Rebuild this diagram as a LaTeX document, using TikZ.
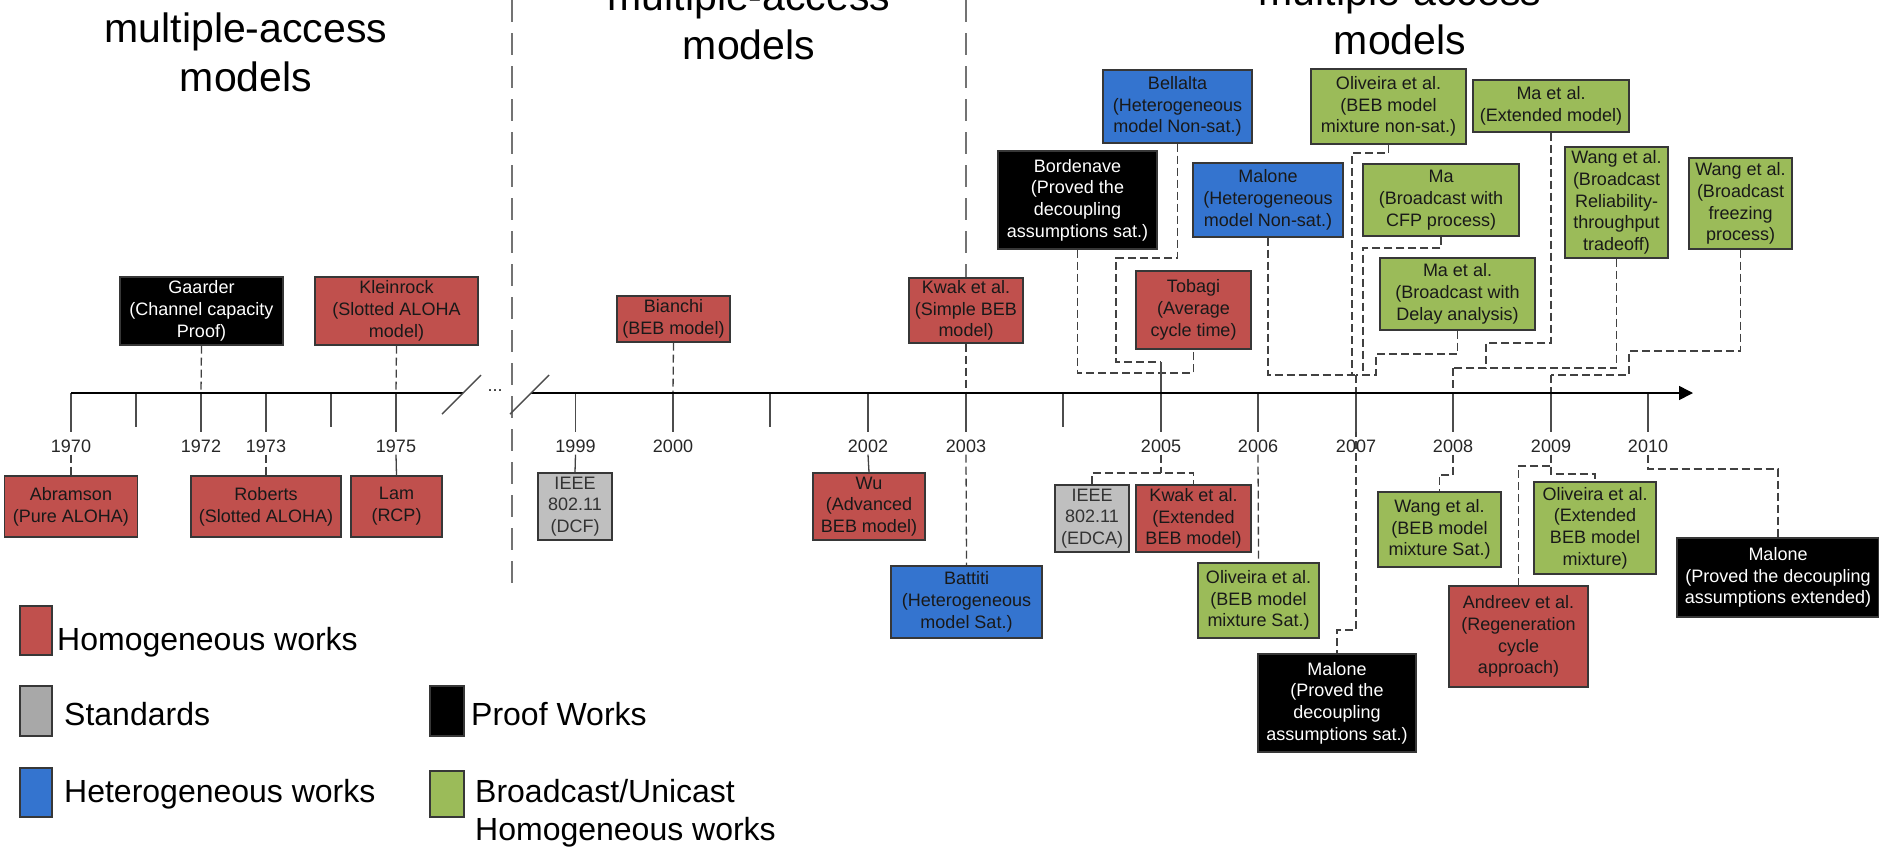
\documentclass[tikz,border=0pt]{standalone}
\usepackage{fontspec}
\setmainfont{Liberation Sans}
\usetikzlibrary{arrows.meta}
\definecolor{cred}{RGB}{192,80,77}
\definecolor{cgreen}{RGB}{155,187,89}
\definecolor{cblue}{RGB}{52,116,207}
\definecolor{cgray}{RGB}{191,191,191}
\definecolor{clgray}{RGB}{168,168,168}
\definecolor{cborder}{RGB}{55,55,55}
\definecolor{cconn}{RGB}{65,65,65}
\tikzset{
  box/.style={draw=cborder, line width=1.3pt, inner sep=0pt, align=center,
    font=\fontsize{18}{21.7}\selectfont, text=black!90},
  sz/.style 2 args={minimum width=#1pt, minimum height=#2pt},
  redbox/.style={box, fill=cred},
  greenbox/.style={box, fill=cgreen},
  bluebox/.style={box, fill=cblue},
  graybox/.style={box, fill=cgray, text=black!80},
  blackbox/.style={box, fill=black, text=white},
  conn/.style={draw=cconn, line width=1.3pt, dash pattern=on 8pt off 4pt},
  sconn/.style={draw=cconn, line width=1.3pt},
  sepline/.style={draw=black!55, line width=2.2pt, dash pattern=on 22pt off 11pt},
  tickline/.style={draw=black!70, line width=1.4pt},
  axisline/.style={draw=black, line width=1.5pt},
  yearlbl/.style={font=\fontsize{18}{21.7}\selectfont, text=black!85, inner sep=2pt},
  titletxt/.style={font=\fontsize{41}{49}\selectfont, inner sep=0pt, anchor=base},
  legtxt/.style={font=\fontsize{32}{38}\selectfont, inner sep=0pt, anchor=base west},
  swatch/.style={draw=cborder, line width=1.2pt, inner sep=0pt},
}
\begin{document}
\begin{tikzpicture}[x=1pt,y=-1pt]
\useasboundingbox (0,0) rectangle (1879,849);

% titles
\node[titletxt] (t1a) at (246,42) {multiple-access};
\node[titletxt] (t1b) at (246,91) {models};
\node[titletxt] (t2a) at (749,10) {multiple-access};
\node[titletxt] (t2b) at (749,59) {models};
\node[titletxt] (t3a) at (1400,5) {multiple-access};
\node[titletxt] (t3b) at (1400,54) {models};

% axis coordinates
\coordinate (y1970) at (71,393);
\coordinate (y1971) at (136,393);
\coordinate (y1972) at (201,393);
\coordinate (y1973) at (266,393);
\coordinate (y1974) at (331,393);
\coordinate (y1975) at (396,393);
\coordinate (y1999) at (575.5,393);
\coordinate (y2000) at (673,393);
\coordinate (y2001) at (770,393);
\coordinate (y2002) at (868,393);
\coordinate (y2003) at (966,393);
\coordinate (y2004) at (1063,393);
\coordinate (y2005) at (1161,393);
\coordinate (y2006) at (1258,393);
\coordinate (y2007) at (1356,393);
\coordinate (y2008) at (1453,393);
\coordinate (y2009) at (1551,393);
\coordinate (y2010) at (1648,393);
\coordinate (brk1) at (463,393);
\coordinate (brk2) at (531,393);
\coordinate (axend) at (1693,393);

% boxes
\node[blackbox, sz={163}{68}] (gaarder) at (201.5,311) {Gaarder\\(Channel capacity\\Proof)};
\node[redbox, sz={163}{68}] (kleinrock) at (396.5,311) {Kleinrock\\(Slotted ALOHA\\model)};
\node[redbox, sz={133}{61}] (abramson) at (71,506.5) {Abramson\\(Pure ALOHA)};
\node[redbox, sz={150}{61}] (roberts) at (266,506.5) {Roberts\\(Slotted ALOHA)};
\node[redbox, sz={91}{61}] (lam) at (396.5,506.5) {Lam\\(RCP)};
\node[graybox, sz={74}{67}] (dcf) at (575,506.5) {IEEE\\802.11\\(DCF)};
\node[redbox, sz={113}{46}] (bianchi) at (673.5,319) {Bianchi\\(BEB model)};
\node[redbox, sz={114}{65}] (kwak1) at (966,310.5) {Kwak et al.\\(Simple BEB\\model)};
\node[redbox, sz={112}{67}] (wu) at (869,506.5) {Wu\\(Advanced\\BEB model)};
\node[bluebox, sz={151}{72}] (battiti) at (966.5,602) {Battiti\\(Heterogeneous\\model Sat.)};
\node[graybox, sz={74}{67}] (edca) at (1092,518.5) {IEEE\\802.11\\(EDCA)};
\node[redbox, sz={115}{67}] (kwak2) at (1193.5,518.5) {Kwak et al.\\(Extended\\BEB model)};
\node[redbox, sz={115}{78}] (tobagi) at (1193.5,310) {Tobagi\\(Average\\cycle time)};
\node[blackbox, sz={159}{98}] (bordenave) at (1077.5,200) {Bordenave\\(Proved the\\decoupling\\assumptions sat.)};
\node[bluebox, sz={149}{73}] (bellalta) at (1177.5,106.5) {Bellalta\\(Heterogeneous\\model Non-sat.)};
\node[bluebox, sz={150}{74}] (maloneH) at (1268,200) {Malone\\(Heterogeneous\\model Non-sat.)};
\node[greenbox, sz={155}{75}] (oliveiraN) at (1388.5,106.5) {Oliveira et al.\\(BEB model\\mixture non-sat.)};
\node[greenbox, sz={156}{72}] (maCFP) at (1441,200) {Ma\\(Broadcast with\\CFP process)};
\node[greenbox, sz={155}{72}] (maDelay) at (1457.5,294) {Ma et al.\\(Broadcast with\\Delay analysis)};
\node[greenbox, sz={156}{52}] (maExt) at (1551,106) {Ma et al.\\(Extended model)};
\node[greenbox, sz={103}{111}] (wangR) at (1616.5,202.5) {Wang et al.\\(Broadcast\\Reliability-\\throughput\\tradeoff)};
\node[greenbox, sz={103}{91}] (wangF) at (1740.5,203.5) {Wang et al.\\(Broadcast\\freezing\\process)};
\node[greenbox, sz={121}{75}] (oliveiraS) at (1258.5,600.5) {Oliveira et al.\\(BEB model\\mixture Sat.)};
\node[blackbox, sz={158}{98}] (maloneS) at (1337,703) {Malone\\(Proved the\\decoupling\\assumptions sat.)};
\node[greenbox, sz={123}{75}] (wangB) at (1439.5,529.5) {Wang et al.\\(BEB model\\mixture Sat.)};
\node[greenbox, sz={122}{92}] (oliveiraE) at (1595,528) {Oliveira et al.\\(Extended\\BEB model\\mixture)};
\node[redbox, sz={139}{101}] (andreev) at (1518.5,636.5) {Andreev et al.\\(Regeneration\\cycle\\approach)};
\node[blackbox, sz={202}{79}] (maloneE) at (1778,577.5) {Malone\\(Proved the decoupling\\assumptions extended)};

% year labels
\node[yearlbl] (l1970) at (71,446) {1970};
\node[yearlbl] (l1972) at (201,446) {1972};
\node[yearlbl] (l1973) at (266,446) {1973};
\node[yearlbl] (l1975) at (396,446) {1975};
\node[yearlbl] (l1999) at (575.5,446) {1999};
\node[yearlbl] (l2000) at (673,446) {2000};
\node[yearlbl] (l2002) at (868,446) {2002};
\node[yearlbl] (l2003) at (966,446) {2003};
\node[yearlbl] (l2005) at (1161,446) {2005};
\node[yearlbl] (l2006) at (1258,446) {2006};
\node[yearlbl] (l2007) at (1356,446) {2007};
\node[yearlbl] (l2008) at (1453,446) {2008};
\node[yearlbl] (l2009) at (1551,446) {2009};
\node[yearlbl] (l2010) at (1648,446) {2010};
\node[yearlbl] (dots) at (495,391) {...};

% separators
\coordinate (s1top) at (512,0);
\coordinate (s1bot) at (512,587);
\coordinate (s2top) at (966,0);
\draw[sepline] (s1top) -- (s1bot);
\draw[sepline] (s2top) -- (kwak1.north);

% junction coordinates
\coordinate (j2005) at (1161,362);
\coordinate (b2005) at (1161,373);
\coordinate (j2007) at (1356,375);
\coordinate (j2008) at (1453,368);
\coordinate (j2009) at (1551,375);

% connectors above the axis
\draw[conn] (gaarder.south) -- (y1972);
\draw[conn] (kleinrock.south) -- (y1975);
\draw[conn] (bianchi.south) -- (y2000);
\draw[conn] (kwak1.south) -- (y2003);
\draw[conn] (bellalta.south) |- (1116,258) |- (j2005);
\draw[conn] (bordenave.south) |- (b2005) -| (tobagi.south);
\draw[conn] (maloneH.south) |- (j2007);
\draw[conn] (oliveiraN.south) |- (1352,153) -- (1352,375);
\draw[conn] (maCFP.south) |- (1363,248) -- (1363,375);
\draw[conn] (maDelay.south) |- (1376,354) |- (j2007);
\draw[conn] (j2007) -- (y2007);
\draw[conn] (maExt.south) |- (1486,343) |- (j2008);
\draw[conn] (wangR.south) |- (j2008);
\draw[conn] (j2008) -- (y2008);
\draw[conn] (wangF.south) |- (1629,351) |- (j2009);
\draw[conn] (j2009) -- (y2009);

% connectors below the axis
\draw[conn] (l1970.south) -- (abramson.north);
\draw[conn] (l1973.south) -- (roberts.north);
\draw[sconn] (l1975.south) -- (lam.north);
\draw[sconn] (l1999.south) -- (dcf.north);
\draw[sconn] (l2002.south) -- (wu.north);
\draw[conn] (l2003.south) -- (battiti.north);
\draw[conn] (l2005.south) -- (1161,473);
\draw[conn] (edca.north) |- (1161,473) -| (kwak2.north);
\draw[conn] (l2006.south) -- (oliveiraS.north);
\draw[conn] (y2007) -- (1356,630) -| (maloneS.north);
\draw[conn] (l2008.south) |- (1439.5,475) -- (wangB.north);
\draw[conn] (l2009.south) |- (1518.5,466) -- (andreev.north);
\draw[conn] (l2009.south) |- (1595,474) -- (oliveiraE.north);
\draw[conn] (l2010.south) |- (1778,469) -- (maloneE.north);

% ticks
\foreach \yr in {1971,1974,2001,2004}{
  \draw[tickline] (y\yr) -- ++(0,34);
}
\foreach \yr in {1970,1972,1973,1975,1999,2000,2002,2003,2006,2007,2008,2009,2010}{
  \draw[tickline] (y\yr) -- ++(0,39);
}
\draw[tickline] (j2005) -- (1161,432);

% axis
\draw[axisline] (y1970) -- (brk1);
\draw[axisline, -{Triangle[length=14pt,width=14pt]}] (brk2) -- (axend);
\draw[tickline] (442,414) -- (481,375);
\draw[tickline] (510,414) -- (549,375);

% legend
\node[swatch, fill=cred, minimum width=32pt, minimum height=49pt] (lgred) at (36,630.5) {};
\node[legtxt] (lgredt) at (57,650) {Homogeneous works};
\node[swatch, fill=clgray, minimum width=32pt, minimum height=50pt] (lggray) at (36,711) {};
\node[legtxt] (lggrayt) at (64,725) {Standards};
\node[swatch, fill=cblue, minimum width=32pt, minimum height=49pt] (lgblue) at (36,792.5) {};
\node[legtxt] (lgbluet) at (64,802) {Heterogeneous works};
\node[swatch, fill=black, minimum width=34pt, minimum height=50pt] (lgblack) at (447,711) {};
\node[legtxt] (lgblackt) at (471,725) {Proof Works};
\node[swatch, fill=cgreen, minimum width=34pt, minimum height=46pt] (lggreen) at (447,794) {};
\node[legtxt] (lggreent1) at (475,802) {Broadcast/Unicast};
\node[legtxt] (lggreent2) at (475,840) {Homogeneous works};
\end{tikzpicture}
\end{document}
